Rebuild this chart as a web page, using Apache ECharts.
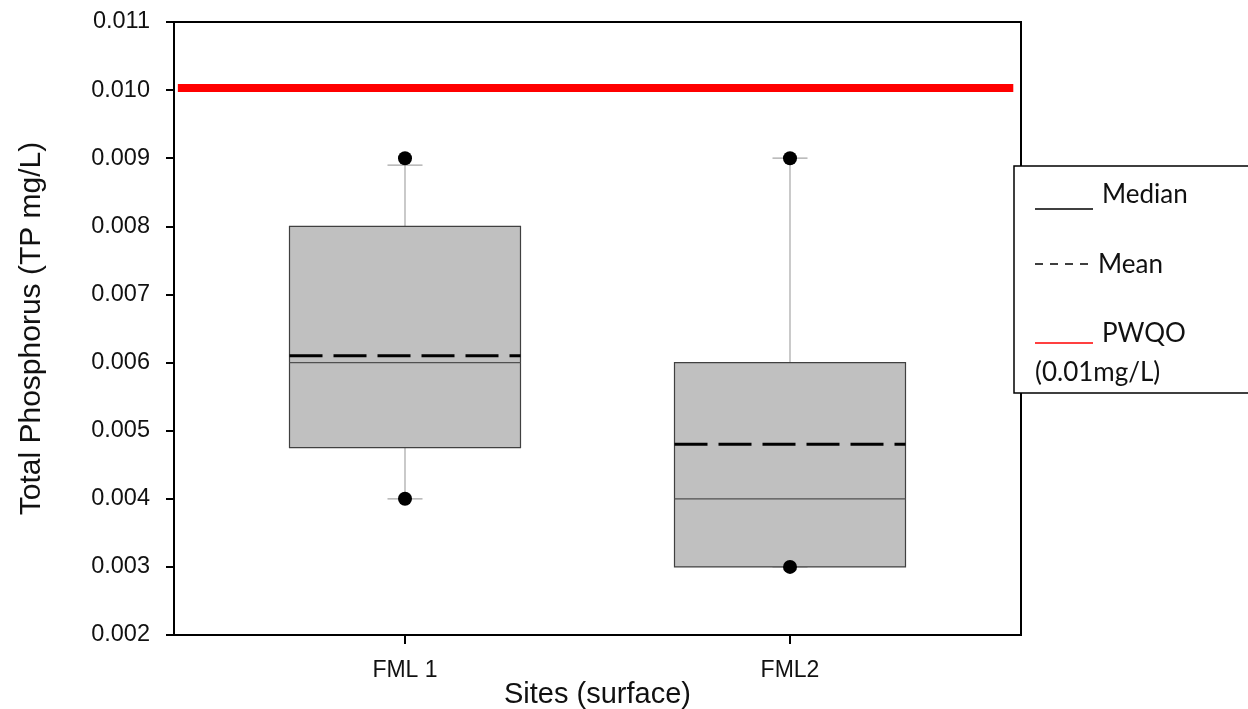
<!DOCTYPE html>
<html>
<head>
<meta charset="utf-8">
<script src="https://cdn.jsdelivr.net/npm/echarts@6/dist/echarts.min.js"></script>
<style>
  html, body { margin: 0; padding: 0; background: #fff; }
  #chart { width: 1248px; height: 709px; }
</style>
</head>
<body>
<div id="chart"></div>
<script>
// ---- data ----
const sites = ['FML 1', 'FML2'];
const sitePos = [1, 2];
const whiskerLow = [0.004, 0.003];
const q1 = [0.00475, 0.003];
const median = [0.006, 0.004];
const q3 = [0.008, 0.006];
const whiskerHigh = [0.0089, 0.009];
const mean = [0.0061, 0.0048];
const outliers = [[1, 0.009], [1, 0.004], [2, 0.009], [2, 0.003]];
const pwqo = 0.01003;

const boxData = sitePos.map((p, i) => [p, whiskerLow[i], q1[i], median[i], q3[i], whiskerHigh[i], mean[i]]);

const chart = echarts.init(document.getElementById('chart'), null, { renderer: 'canvas' });

const FONT = '"Liberation Sans", Arial, sans-serif';
const LFONT = 'Lato, "Open Sans", sans-serif';

function renderBox(params, api) {
  const x = api.value(0);
  const lo = api.coord([x, api.value(1)]);
  const b1 = api.coord([x, api.value(2)]);
  const md = api.coord([x, api.value(3)]);
  const b3 = api.coord([x, api.value(4)]);
  const hi = api.coord([x, api.value(5)]);
  const mn = api.coord([x, api.value(6)]);
  const halfW = api.size([0.6, 0])[0] / 2;
  const capW = 17.5;
  const cx = lo[0];
  const whisk = { stroke: '#a6a6a6', lineWidth: 1.2 };
  return {
    type: 'group',
    children: [
      { type: 'line', shape: { x1: cx, y1: b3[1], x2: cx, y2: hi[1] }, style: whisk },
      { type: 'line', shape: { x1: cx, y1: b1[1], x2: cx, y2: lo[1] }, style: whisk },
      { type: 'line', shape: { x1: cx - capW, y1: hi[1], x2: cx + capW, y2: hi[1] }, style: whisk },
      { type: 'line', shape: { x1: cx - capW, y1: lo[1], x2: cx + capW, y2: lo[1] }, style: whisk },
      { type: 'rect', shape: { x: cx - halfW, y: b3[1], width: halfW * 2, height: b1[1] - b3[1] },
        style: { fill: '#c0c0c0', stroke: '#404040', lineWidth: 1.2 } },
      { type: 'line', shape: { x1: cx - halfW, y1: md[1], x2: cx + halfW, y2: md[1] },
        style: { stroke: '#505050', lineWidth: 1.2 } },
      { type: 'line', shape: { x1: cx - halfW, y1: mn[1], x2: cx + halfW, y2: mn[1] },
        style: { stroke: '#000', lineWidth: 3, lineDash: [33, 11] } }
    ]
  };
}

const option = {
  backgroundColor: '#fff',
  animation: false,
  grid: { left: 174, right: 227, top: 22, bottom: 74, containLabel: false, outerBoundsMode: 'none',
    show: true, borderColor: '#000', borderWidth: 2, backgroundColor: 'transparent' },
  xAxis: {
    type: 'value', min: 0.4, max: 2.6,
    name: 'Sites (surface)', nameLocation: 'middle', nameGap: 45, nameMoveOverlap: false,
    nameTextStyle: { fontFamily: FONT, fontSize: 29, color: '#111' },
    axisLine: { show: true, lineStyle: { color: '#000', width: 2 } },
    axisTick: { show: true, customValues: sitePos, length: 9, lineStyle: { color: '#000', width: 2 } },
    axisLabel: { customValues: sitePos, margin: 24, fontFamily: FONT, fontSize: 23, color: '#111',
      formatter: v => { const i = sitePos.indexOf(Math.round(v)); return i >= 0 ? sites[i] : ''; } },
    splitLine: { show: false }
  },
  yAxis: {
    type: 'value', min: 0.002, max: 0.011, interval: 0.001,
    name: 'Total Phosphorus (TP mg/L)', nameLocation: 'middle', nameGap: 127, nameRotate: 90, nameMoveOverlap: false,
    nameTextStyle: { fontFamily: FONT, fontSize: 30, color: '#111' },
    axisLine: { show: true, lineStyle: { color: '#000', width: 2 } },
    axisTick: { show: true, length: 8, lineStyle: { color: '#000', width: 2 } },
    axisLabel: { margin: 24, fontFamily: FONT, fontSize: 23.5, color: '#111',
      formatter: v => v.toFixed(3) },
    splitLine: { show: false }
  },
  series: [
    {
      type: 'line', name: 'PWQO', data: [[0.41, pwqo], [2.58, pwqo]],
      showSymbol: false, symbol: 'none', lineStyle: { color: '#ff0000', width: 8 }, z: 3, silent: true
    },
    {
      type: 'custom', name: 'box', data: boxData, renderItem: renderBox, z: 4,
      encode: { x: 0, y: [1, 2, 3, 4, 5] }
    },
    {
      type: 'scatter', name: 'points', data: outliers, symbol: 'circle', symbolSize: 14,
      itemStyle: { color: '#000', opacity: 1 }, z: 5
    }
  ],
  graphic: [
    { type: 'rect', z: 100, shape: { x: 1014, y: 166, width: 260, height: 227 },
      style: { fill: '#fff', stroke: '#000', lineWidth: 1.5 } },
    { type: 'line', z: 101, shape: { x1: 1035, y1: 209, x2: 1093, y2: 209 }, style: { stroke: '#000', lineWidth: 1.5 } },
    { type: 'text', z: 101, x: 1102, y: 195, style: { text: 'Median', font: '26px ' + LFONT, fill: '#111', verticalAlign: 'middle' } },
    { type: 'line', z: 101, shape: { x1: 1035, y1: 264, x2: 1090, y2: 264 }, style: { stroke: '#000', lineWidth: 1.5, lineDash: [8, 7] } },
    { type: 'text', z: 101, x: 1098, y: 265, style: { text: 'Mean', font: '26px ' + LFONT, fill: '#111', verticalAlign: 'middle' } },
    { type: 'line', z: 101, shape: { x1: 1035, y1: 343, x2: 1093, y2: 343 }, style: { stroke: '#ff0000', lineWidth: 1.5 } },
    { type: 'text', z: 101, x: 1102, y: 334, style: { text: 'PWQO', font: '26px ' + LFONT, fill: '#111', verticalAlign: 'middle' } },
    { type: 'text', z: 101, x: 1035, y: 373, style: { text: '(0.01mg/L)', font: '26px ' + LFONT, fill: '#111', verticalAlign: 'middle' } }
  ]
};

chart.setOption(option);
</script>
</body>
</html>
